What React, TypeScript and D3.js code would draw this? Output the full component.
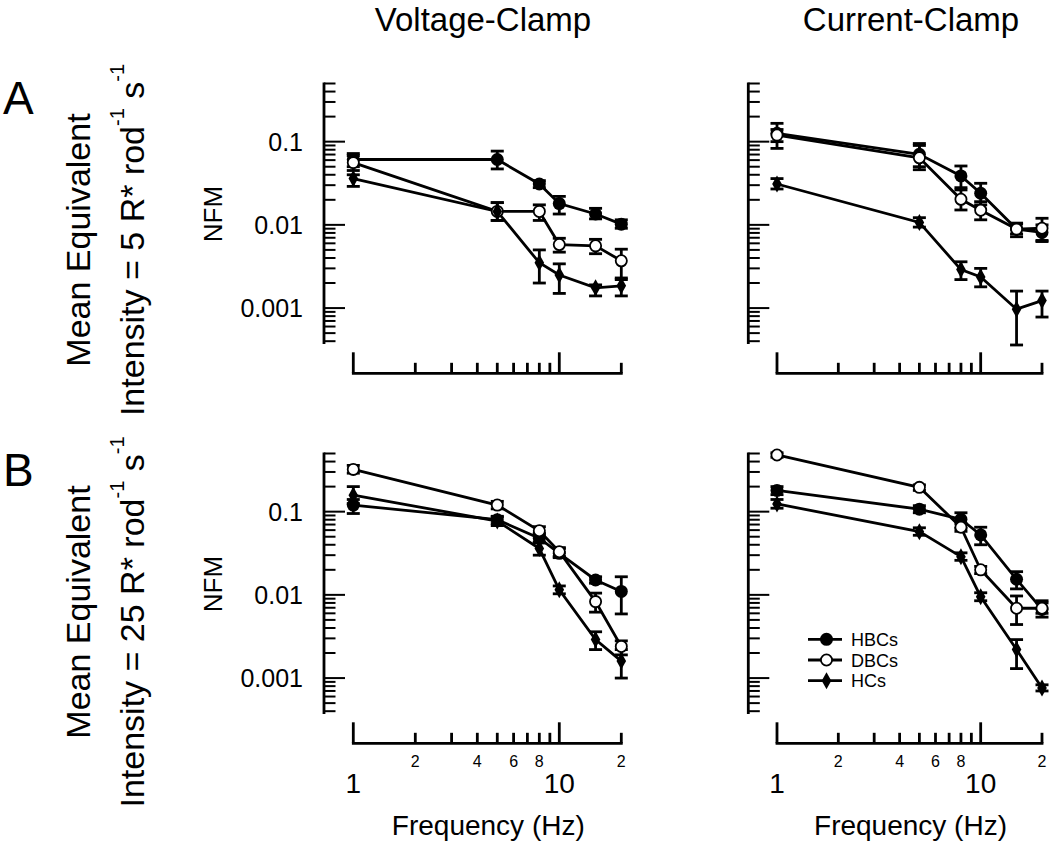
import React from "react";
import * as d3 from "d3";

// ---- data ----
const freqs = [1, 5, 8, 10, 15, 20];
const seriesNames = ["HBCs", "DBCs", "HCs"];
const columnTitles = ["Voltage-Clamp", "Current-Clamp"];
const rowLabels = ["A", "B"];
const intensities = ["5", "25"];
const yTickLabels = ["0.1", "0.01", "0.001"];
const xMajorLabels = ["1", "10"];
const xMinorLabels = [
  { v: 2, t: "2" },
  { v: 4, t: "4" },
  { v: 6, t: "6" },
  { v: 8, t: "8" },
  { v: 20, t: "2" },
];

// Panel A, voltage clamp
const aVcHbc = [0.061, 0.061, 0.031, 0.018, 0.0135, 0.0102];
const aVcHbcLo = [0.05, 0.047, 0.028, 0.0135, 0.0118, 0.0091];
const aVcHbcHi = [0.072, 0.077, 0.034, 0.022, 0.0158, 0.0115];
const aVcDbc = [0.056, 0.0145, 0.0145, 0.0058, 0.0056, 0.0037];
const aVcDbcLo = [0.045, 0.0113, 0.0113, 0.0047, 0.0045, 0.0022];
const aVcDbcHi = [0.068, 0.0185, 0.0174, 0.0069, 0.0067, 0.0051];
const aVcHc = [0.036, 0.0145, 0.0035, 0.0025, 0.00175, 0.00185];
const aVcHcLo = [0.029, 0.0113, 0.002, 0.0015, 0.0014, 0.0014];
const aVcHcHi = [0.04, 0.0185, 0.005, 0.0034, 0.0019, 0.0023];

// Panel A, current clamp
const aCcHbc = [0.126, 0.0705, 0.0387, 0.024, 0.0089, 0.0081];
const aCcHbcLo = [0.083, 0.046, 0.028, 0.0174, 0.0072, 0.0065];
const aCcHbcHi = [0.166, 0.095, 0.051, 0.0316, 0.0105, 0.01];
const aCcDbc = [0.12, 0.064, 0.0203, 0.015, 0.0089, 0.0091];
const aCcDbcLo = [0.1, 0.05, 0.0151, 0.0115, 0.0078, 0.0063];
const aCcDbcHi = [0.14, 0.09, 0.0263, 0.019, 0.0102, 0.012];
const aCcHc = [0.031, 0.0107, 0.0029, 0.00236, 0.00097, 0.00123];
const aCcHcLo = [0.027, 0.0094, 0.0022, 0.0018, 0.00036, 0.00078];
const aCcHcHi = [0.036, 0.0122, 0.0036, 0.003, 0.0016, 0.0016];

// Panel B, voltage clamp
const bVcHbc = [0.12, 0.08, 0.048, 0.0316, 0.0151, 0.011];
const bVcHbcLo = [0.095, 0.072, 0.042, 0.028, 0.0138, 0.0059];
const bVcHbcHi = [0.14, 0.088, 0.055, 0.036, 0.0165, 0.0165];
const bVcDbc = [0.322, 0.12, 0.059, 0.033, 0.0083, 0.0024];
const bVcDbcLo = [0.29, 0.108, 0.053, 0.029, 0.0062, 0.0019];
const bVcDbcHi = [0.36, 0.133, 0.066, 0.037, 0.0105, 0.0028];
const bVcHc = [0.158, 0.077, 0.036, 0.0115, 0.0029, 0.0016];
const bVcHcLo = [0.125, 0.068, 0.03, 0.0103, 0.0022, 0.001];
const bVcHcHi = [0.2, 0.086, 0.043, 0.0128, 0.0036, 0.0022];

// Panel B, current clamp
const bCcHbc = [0.18, 0.107, 0.081, 0.0525, 0.0154, 0.0067];
const bCcHbcLo = [0.16, 0.097, 0.063, 0.04, 0.0118, 0.0054];
const bCcHbcHi = [0.2, 0.118, 0.097, 0.065, 0.019, 0.0085];
const bCcDbc = [0.48, 0.196, 0.065, 0.02, 0.0069, 0.0069];
const bCcDbcLo = [0.45, 0.18, 0.058, 0.018, 0.0044, 0.006];
const bCcDbcHi = [0.51, 0.21, 0.072, 0.022, 0.0097, 0.008];
const bCcHc = [0.124, 0.0575, 0.0288, 0.0095, 0.0022, 0.00076];
const bCcHcLo = [0.11, 0.052, 0.026, 0.0085, 0.0013, 0.0007];
const bCcHcHi = [0.14, 0.064, 0.032, 0.0106, 0.0029, 0.00083];

type Series = { mean: number[]; lo: number[]; hi: number[] };
const panels: Series[][][] = [
  [
    [
      { mean: aVcHbc, lo: aVcHbcLo, hi: aVcHbcHi },
      { mean: aVcDbc, lo: aVcDbcLo, hi: aVcDbcHi },
      { mean: aVcHc, lo: aVcHcLo, hi: aVcHcHi },
    ],
    [
      { mean: aCcHbc, lo: aCcHbcLo, hi: aCcHbcHi },
      { mean: aCcDbc, lo: aCcDbcLo, hi: aCcDbcHi },
      { mean: aCcHc, lo: aCcHcLo, hi: aCcHcHi },
    ],
  ],
  [
    [
      { mean: bVcHbc, lo: bVcHbcLo, hi: bVcHbcHi },
      { mean: bVcDbc, lo: bVcDbcLo, hi: bVcDbcHi },
      { mean: bVcHc, lo: bVcHcLo, hi: bVcHcHi },
    ],
    [
      { mean: bCcHbc, lo: bCcHbcLo, hi: bCcHbcHi },
      { mean: bCcDbc, lo: bCcDbcLo, hi: bCcDbcHi },
      { mean: bCcHc, lo: bCcHcLo, hi: bCcHcHi },
    ],
  ],
];

// ---- layout ----
const FONT = "'Liberation Sans', Arial, Helvetica, sans-serif";
const colLayout = [
  { axisX: 324, x0: 353.3, x1: 621.3, titleX: 483 },
  { axisX: 748.3, x0: 777, x1: 1042, titleX: 911 },
];
const rowLayout = [
  { yTop: 83.5, yBot: 344, xAxisY: 373.3, nfmY: 214, label1Y: 240, label2Y: 240, letterY: 114 },
  { yTop: 453.5, yBot: 714, xAxisY: 743.3, nfmY: 584, label1Y: 612, label2Y: 622, letterY: 486 },
];
const Y_DOMAIN: [number, number] = [0.00037, 0.5];
const SW = 2.8;

function Marker({ kind, x, y }: { kind: number; x: number; y: number }) {
  if (kind === 2) {
    const w = 4.8, h = 8.5;
    return (
      <path
        d={`M${x},${y - h}L${x + w},${y}L${x},${y + h}L${x - w},${y}Z`}
        fill="#000"
      />
    );
  }
  return (
    <circle
      cx={x}
      cy={y}
      r={kind === 1 ? 5.6 : 6.5}
      fill={kind === 1 ? "#fff" : "#000"}
      stroke="#000"
      strokeWidth={kind === 1 ? 1.8 : 0}
    />
  );
}

function Panel({ row, col }: { row: number; col: number }) {
  const c = colLayout[col];
  const r = rowLayout[row];
  const x = d3.scaleLog().domain([1, 20]).range([c.x0, c.x1]);
  const y = d3.scaleLog().domain(Y_DOMAIN).range([r.yBot, r.yTop]);
  const yTicks = y.ticks();
  const xTicks = x.ticks();
  const isMajor = (v: number) => Math.abs(Math.log10(v) - Math.round(Math.log10(v))) < 1e-9;
  const line = d3
    .line<number>()
    .x((_, i) => x(freqs[i]))
    .y((d) => y(d));
  const data = panels[row][col];
  const cap = 6.5;
  return (
    <g>
      {/* y axis */}
      <line x1={c.axisX} x2={c.axisX} y1={r.yBot} y2={r.yTop - 1} stroke="#000" strokeWidth={SW} />
      {yTicks.map((v, i) => (
        <line
          key={"yt" + i}
          x1={c.axisX}
          x2={c.axisX + (isMajor(v) ? 21 : 11.5)}
          y1={y(v)}
          y2={y(v)}
          stroke="#000"
          strokeWidth={2}
        />
      ))}
      {col === 0 &&
        yTickLabels.map((t) => (
          <text
            key={"yl" + t}
            x={303}
            y={y(+t) + 9}
            textAnchor="end"
            fontSize={25}
            fontFamily={FONT}
          >
            {t}
          </text>
        ))}
      {col === 0 && (
        <text
          transform={`translate(222,${r.nfmY}) rotate(-90)`}
          textAnchor="middle"
          fontSize={26}
          fontFamily={FONT}
        >
          NFM
        </text>
      )}
      {/* x axis */}
      <line x1={x(1) - 1.4} x2={x(20) + 1.4} y1={r.xAxisY} y2={r.xAxisY} stroke="#000" strokeWidth={SW} />
      {xTicks.map((v, i) => (
        <line
          key={"xt" + i}
          x1={x(v)}
          x2={x(v)}
          y1={r.xAxisY}
          y2={r.xAxisY - (isMajor(v) ? 21 : 10.5)}
          stroke="#000"
          strokeWidth={SW}
        />
      ))}
      {row === 1 &&
        xMinorLabels.map((m, i) => (
          <text key={"xm" + i} x={x(m.v)} y={766.5} textAnchor="middle" fontSize={16} fontFamily={FONT}>
            {m.t}
          </text>
        ))}
      {row === 1 &&
        xMajorLabels.map((t) => (
          <text key={"xM" + t} x={x(+t)} y={793} textAnchor="middle" fontSize={28} fontFamily={FONT}>
            {t}
          </text>
        ))}
      {row === 1 && (
        <text x={(c.x0 + c.x1) / 2 + 1} y={835} textAnchor="middle" fontSize={28} fontFamily={FONT}>
          Frequency (Hz)
        </text>
      )}
      {/* lines */}
      {data.map((s, k) => (
        <path key={"ln" + k} d={line(s.mean) || ""} fill="none" stroke="#000" strokeWidth={SW} />
      ))}
      {/* error bars */}
      {data.map((s, k) =>
        s.mean.map((_, i) => {
          const xx = x(freqs[i]);
          const yl = y(s.lo[i]);
          const yh = y(s.hi[i]);
          return (
            <g key={`eb${k}-${i}`} stroke="#000" strokeWidth={SW}>
              <line x1={xx} x2={xx} y1={yl} y2={yh} />
              <line x1={xx - cap} x2={xx + cap} y1={yl} y2={yl} />
              <line x1={xx - cap} x2={xx + cap} y1={yh} y2={yh} />
            </g>
          );
        })
      )}
      {/* markers */}
      {data.map((s, k) =>
        s.mean.map((v, i) => <Marker key={`mk${k}-${i}`} kind={k} x={x(freqs[i])} y={y(v)} />)
      )}
    </g>
  );
}

function Legend() {
  const rows = [639.3, 660, 680.7];
  return (
    <g>
      {seriesNames.map((n, k) => (
        <g key={n}>
          <line x1={808} x2={842} y1={rows[k]} y2={rows[k]} stroke="#000" strokeWidth={SW} />
          <Marker kind={k} x={826.5} y={rows[k]} />
          <text x={851} y={rows[k] + 6.5} fontSize={18} fontFamily={FONT}>
            {n}
          </text>
        </g>
      ))}
    </g>
  );
}

export default function App() {
  return (
    <svg
      width={1050}
      height={848}
      style={{ position: "absolute", left: 0, top: 0, background: "#fff" }}
    >
      <rect width={1050} height={848} fill="#fff" />
      {columnTitles.map((t, i) => (
        <text key={t} x={colLayout[i].titleX} y={31} textAnchor="middle" fontSize={33} fontFamily={FONT}>
          {t}
        </text>
      ))}
      {rowLabels.map((l, ri) => (
        <g key={l}>
          <text x={3} y={rowLayout[ri].letterY} fontSize={46} fontFamily={FONT}>
            {l}
          </text>
          <text
            transform={`translate(90,${rowLayout[ri].label1Y}) rotate(-90)`}
            textAnchor="middle"
            fontSize={34}
            fontFamily={FONT}
          >
            Mean Equivalent
          </text>
          <text
            transform={`translate(144,${rowLayout[ri].label2Y}) rotate(-90)`}
            textAnchor="middle"
            fontSize={34}
            fontFamily={FONT}
          >
            {`Intensity = ${intensities[ri]} R* rod`}
            <tspan fontSize={20} dy={-20}>-1</tspan>
            <tspan dy={20}> s</tspan>
            <tspan fontSize={20} dy={-20}>-1</tspan>
          </text>
        </g>
      ))}
      {[0, 1].map((ri) => [0, 1].map((ci) => <Panel key={`${ri}-${ci}`} row={ri} col={ci} />))}
      <Legend />
    </svg>
  );
}
